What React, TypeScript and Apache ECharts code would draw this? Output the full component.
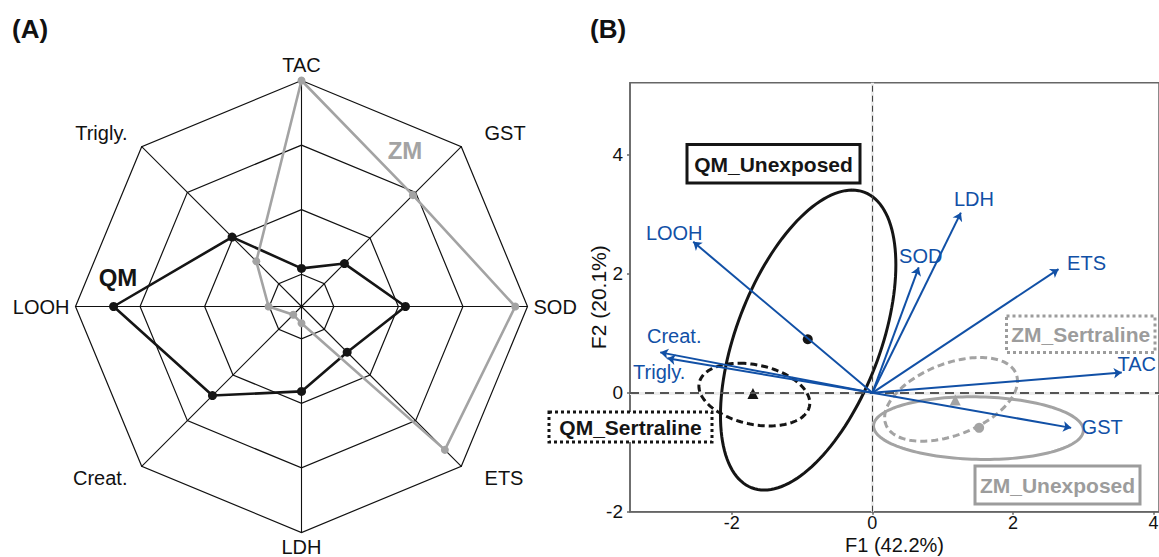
import React, { useEffect, useRef } from "react";
import * as echarts from "echarts";

// ---------- Panel A: radar ----------
const radarIndicators = ["TAC", "Trigly.", "LOOH", "Creat.", "LDH", "ETS", "SOD", "GST"];
const radarMax = 7;
const qmValues = [1.18, 3.04, 5.82, 3.9, 2.63, 2.0, 3.22, 1.88];
const zmValues = [7.0, 1.98, 1.02, 0.36, 0.52, 6.28, 6.62, 4.88];

// ---------- Panel B: PCA biplot ----------
const loadingNames = ["LOOH", "Creat.", "Trigly.", "SOD", "LDH", "ETS", "TAC", "GST"];
const loadingF1 = [-2.55, -3.02, -2.92, 0.66, 1.26, 2.65, 3.55, 2.83];
const loadingF2 = [2.54, 0.68, 0.58, 2.11, 3.03, 2.08, 0.34, -0.59];
const loadingLabelOffsets = [
  [-19, -9], [14, -16], [-8, 14], [2, -11], [13, -14], [28, -6], [15, -9], [31, -1],
];

const groupNames = ["QM_Unexposed", "QM_Sertraline", "ZM_Unexposed", "ZM_Sertraline"];
const groupF1 = [-0.92, -1.7, 1.52, 1.18];
const groupF2 = [0.9, -0.01, -0.59, -0.12];
const ellipseCenterF1 = [-0.914, -1.68, 1.51, 1.12];
const ellipseCenterF2 = [0.887, -0.03, -0.594, -0.11];
const ellipseAxisA = [[0.626, 2.523], [-0.213, 0.527], [-0.1, 0.527], [0.414, 0.704]];
const ellipseAxisB = [[1.08, 0], [0.76, 0], [1.49, 0], [0.85, 0]];

const xTicks = [-2, 0, 2, 4];
const yTicks = [-2, 0, 2, 4];

const BLACK = "#151515";
const GRAY = "#a3a3a3";
const BOXGRAY = "#9c9c9c";
const BLUE = "#1150a6";
const FONT = "'Liberation Sans', Arial, Helvetica, sans-serif";

const groupColors = [BLACK, BLACK, GRAY, GRAY];
const groupSymbols = ["circle", "triangle", "circle", "triangle"];
const ellipseDash = [null, [7, 4], null, [7, 4]];

const nameRichKey: Record<string, string> = {
  TAC: "c",
  LDH: "b",
  LOOH: "c",
  SOD: "c",
  GST: "ur",
  ETS: "lr",
  "Trigly.": "ul",
  "Creat.": "ll",
};

export default function App() {
  const ref = useRef<HTMLDivElement>(null);
  useEffect(() => {
    if (!ref.current) return;
    const chart = echarts.init(ref.current, undefined, { renderer: "svg" });
    const richBase = { fontSize: 20, color: "#111", fontFamily: FONT };
    const option: any = {
      animation: false,
      backgroundColor: "#ffffff",
      textStyle: { fontFamily: FONT },
      radar: {
        center: [301.5, 306.5],
        radius: 226,
        startAngle: 90,
        splitNumber: 7,
        shape: "polygon",
        nameGap: 6,
        indicator: radarIndicators.map((name) => ({ name, min: 0, max: radarMax })),
        axisName: {
          color: "#111",
          fontSize: 20,
          fontFamily: FONT,
          formatter: (name: string) => `{${nameRichKey[name] || "c"}|${name}}`,
          rich: {
            c: { ...richBase },
            b: { ...richBase, lineHeight: 16, height: 16 },
            ur: { ...richBase, padding: [0, 0, 18, 19] },
            lr: { ...richBase, padding: [14, 0, 0, 19] },
            ul: { ...richBase, padding: [0, 10, 18, 0] },
            ll: { ...richBase, padding: [14, 10, 0, 0] },
          },
        },
        axisLine: { lineStyle: { color: "#111", width: 1.1 } },
        splitLine: { lineStyle: { color: ["rgba(0,0,0,0)", "#111"], width: 1.2 } },
        splitArea: { show: false },
        axisTick: { show: false },
        axisLabel: { show: false },
      },
      grid: {
        left: 630,
        top: 82.7,
        width: 529,
        height: 429,
        show: true,
        borderColor: "#666",
        borderWidth: 1.5,
        backgroundColor: "transparent",
        containLabel: false,
        outerBoundsMode: "none",
      },
      xAxis: {
        type: "value",
        min: -3.45,
        max: 4.08,
        splitLine: { show: false },
        axisLine: { show: true, onZero: false, lineStyle: { color: "#666", width: 1.5 } },
        axisTick: { show: true, customValues: xTicks, length: 3, lineStyle: { color: "#666", width: 1.5 } },
        axisLabel: { customValues: xTicks, fontSize: 18, lineHeight: 16, color: "#111", margin: 3, fontFamily: FONT },
        name: "F1 (42.2%)",
        nameLocation: "middle",
        nameGap: 24,
        nameMoveOverlap: false,
        nameTextStyle: { fontSize: 20, lineHeight: 18, color: "#111", fontFamily: FONT },
      },
      yAxis: {
        type: "value",
        min: -2,
        max: 5.216,
        splitLine: { show: false },
        axisLine: { show: true, onZero: false, lineStyle: { color: "#666", width: 1.5 } },
        axisTick: { show: true, customValues: yTicks, length: 3, lineStyle: { color: "#666", width: 1.5 } },
        axisLabel: { customValues: yTicks, fontSize: 19, color: "#111", margin: 7, fontFamily: FONT },
        name: "F2 (20.1%)",
        nameLocation: "middle",
        nameGap: 21,
        nameMoveOverlap: false,
        nameTextStyle: { fontSize: 21, color: "#111", fontFamily: FONT },
      },
      series: [
        {
          type: "radar",
          radarIndex: 0,
          z: 3,
          symbol: "circle",
          symbolSize: 9,
          data: [
            {
              name: "QM",
              value: qmValues,
              lineStyle: { color: BLACK, width: 2.6 },
              itemStyle: { color: BLACK },
            },
          ],
        },
        {
          type: "radar",
          radarIndex: 0,
          z: 4,
          symbol: "circle",
          symbolSize: 8,
          data: [
            {
              name: "ZM",
              value: zmValues,
              lineStyle: { color: GRAY, width: 2.6 },
              itemStyle: { color: GRAY },
            },
          ],
        },
        {
          type: "custom",
          name: "ellipses",
          coordinateSystem: "cartesian2d",
          z: 2,
          silent: true,
          data: ellipseCenterF1.map((x, i) => [
            x,
            ellipseCenterF2[i],
            ellipseAxisA[i][0],
            ellipseAxisA[i][1],
            ellipseAxisB[i][0],
            ellipseAxisB[i][1],
          ]),
          renderItem: (params: any, api: any) => {
            const i = params.dataIndex;
            const cx = api.value(0), cy = api.value(1);
            const ax = api.value(2), ay = api.value(3);
            const bx = api.value(4), by = api.value(5);
            const pts: number[][] = [];
            const n = 144;
            for (let k = 0; k <= n; k++) {
              const t = (k / n) * Math.PI * 2;
              const c = Math.cos(t), s = Math.sin(t);
              pts.push(api.coord([cx + ax * c + bx * s, cy + ay * c + by * s]));
            }
            return {
              type: "polyline",
              shape: { points: pts },
              style: {
                fill: "none",
                stroke: groupColors[i],
                lineWidth: 3,
                lineDash: ellipseDash[i] || undefined,
              },
            };
          },
          markLine: {
            silent: true,
            symbol: "none",
            label: { show: false },
            z: 1,
            data: [
              { xAxis: 0, lineStyle: { type: "solid", color: "#ececec", width: 3 } },
              { yAxis: 0, lineStyle: { type: "solid", color: "#ececec", width: 3 } },
            ],
          },
        },
        {
          type: "scatter",
          name: "groups",
          z: 3,
          data: groupF1.map((x, i) => ({
            name: groupNames[i],
            value: [x, groupF2[i]],
            symbol: groupSymbols[i],
            symbolSize: groupSymbols[i] === "triangle" ? 11 : 10,
            itemStyle: { color: groupColors[i], opacity: 1 },
          })),
          markLine: {
            silent: true,
            symbol: "none",
            label: { show: false },
            data: [
              { xAxis: 0, lineStyle: { type: [6, 4], color: "#444", width: 1 } },
              { yAxis: 0, lineStyle: { type: [9, 6], color: "#555", width: 1.8 } },
            ],
          },
        },
        {
          type: "lines",
          coordinateSystem: "cartesian2d",
          z: 5,
          silent: true,
          symbol: ["none", "arrow"],
          symbolSize: 8,
          lineStyle: { color: BLUE, width: 2, opacity: 1 },
          data: loadingF1.map((x, i) => ({ coords: [[0, 0], [x, loadingF2[i]]] })),
        },
        {
          type: "scatter",
          name: "loadingLabels",
          z: 6,
          silent: true,
          symbolSize: 1,
          itemStyle: { color: "rgba(0,0,0,0)", opacity: 1 },
          label: {
            show: true,
            position: "inside",
            formatter: "{b}",
            color: BLUE,
            fontSize: 20,
            fontFamily: FONT,
            opacity: 1,
          },
          data: loadingF1.map((x, i) => ({
            name: loadingNames[i],
            value: [x, loadingF2[i]],
            label: { offset: loadingLabelOffsets[i] },
          })),
        },
      ],
      graphic: [
        { type: "text", left: 12, top: 16, style: { text: "(A)", font: `bold 26px ${FONT}`, fill: "#111" } },
        { type: "text", left: 590, top: 16, style: { text: "(B)", font: `bold 26px ${FONT}`, fill: "#111" } },
        {
          type: "text", x: 118, y: 277,
          style: { text: "QM", font: `bold 24px ${FONT}`, fill: BLACK, align: "center", verticalAlign: "middle" },
        },
        {
          type: "text", x: 405, y: 150,
          style: { text: "ZM", font: `bold 24px ${FONT}`, fill: GRAY, align: "center", verticalAlign: "middle" },
        },
        {
          type: "rect", shape: { x: 687, y: 144.5, width: 173, height: 38.5 },
          style: { fill: "#fff", stroke: BLACK, lineWidth: 3 }, z: 10,
        },
        {
          type: "text", x: 773.5, y: 164, z: 11,
          style: { text: "QM_Unexposed", font: `bold 21px ${FONT}`, fill: BLACK, align: "center", verticalAlign: "middle" },
        },
        {
          type: "rect", shape: { x: 549, y: 412, width: 163, height: 30 },
          style: { fill: "#fff", stroke: BLACK, lineWidth: 3, lineDash: [3, 3] }, z: 10,
        },
        {
          type: "text", x: 630.5, y: 427, z: 11,
          style: { text: "QM_Sertraline", font: `bold 21px ${FONT}`, fill: BLACK, align: "center", verticalAlign: "middle" },
        },
        {
          type: "rect", shape: { x: 1006.5, y: 316, width: 148.5, height: 36.5 },
          style: { fill: "#fff", stroke: BOXGRAY, lineWidth: 3, lineDash: [3, 3] }, z: 10,
        },
        {
          type: "text", x: 1080.7, y: 334.5, z: 11,
          style: { text: "ZM_Sertraline", font: `bold 21px ${FONT}`, fill: BOXGRAY, align: "center", verticalAlign: "middle" },
        },
        {
          type: "rect", shape: { x: 975, y: 466, width: 165, height: 38 },
          style: { fill: "#fff", stroke: BOXGRAY, lineWidth: 3 }, z: 10,
        },
        {
          type: "text", x: 1057.5, y: 485, z: 11,
          style: { text: "ZM_Unexposed", font: `bold 21px ${FONT}`, fill: BOXGRAY, align: "center", verticalAlign: "middle" },
        },
      ],
    };
    chart.setOption(option);
    return () => chart.dispose();
  }, []);
  return (
    <div
      ref={ref}
      style={{ position: "fixed", left: 0, top: 0, width: 1159, height: 557, background: "#fff" }}
    />
  );
}
